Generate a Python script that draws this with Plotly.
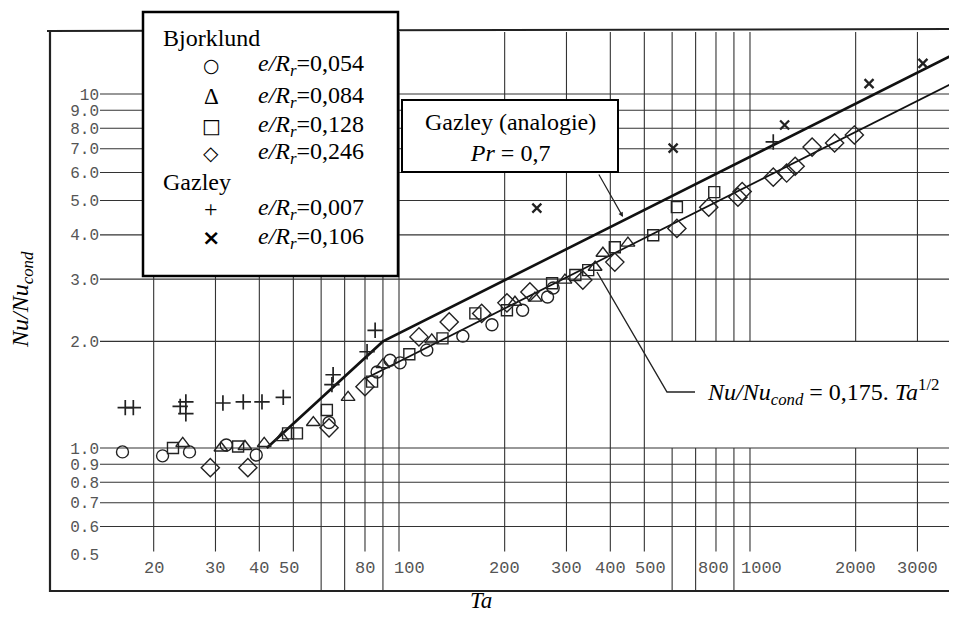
import numpy as np
import plotly.graph_objects as go

# Data (Ta, Nu/Nu_cond)
ta_054 = [16.3, 21.2, 25.3, 32.2, 39.2, 63.2, 86.6, 94.3, 100.7, 120, 152, 184, 225, 265, 275]
nu_054 = [0.975, 0.95, 0.975, 1.02, 0.955, 1.18, 1.64, 1.77, 1.74, 1.89, 2.07, 2.23, 2.45, 2.67, 2.83]

ta_084 = [24.2, 31.1, 36.4, 41.3, 46.4, 57.0, 71.6, 90, 124, 214, 244, 297, 362, 381, 449]
nu_084 = [1.03, 1.0, 1.01, 1.03, 1.07, 1.18, 1.39, 1.72, 2.02, 2.58, 2.65, 2.98, 3.24, 3.55, 3.79]

ta_128 = [22.7, 34.8, 48.3, 51.2, 62.3, 83.8, 107, 133, 165, 203, 273, 318, 346, 412, 530, 619, 791]
nu_128 = [1.0, 1.01, 1.10, 1.10, 1.28, 1.54, 1.84, 2.04, 2.40, 2.45, 2.92, 3.08, 3.18, 3.69, 3.99, 4.79, 5.28]

ta_246 = [29.0, 37.1, 63.2, 80, 114, 139, 172, 203, 236, 334, 412, 619, 763, 924, 950,
          1165, 1272, 1345, 1503, 1742, 1983]
nu_246 = [0.88, 0.88, 1.14, 1.49, 2.06, 2.27, 2.40, 2.57, 2.76, 2.98, 3.35, 4.17, 4.79, 5.11, 5.30,
          5.82, 5.98, 6.25, 7.08, 7.27, 7.66]

ta_007 = [16.6, 17.5, 23.8, 24.7, 24.7, 31.5, 36.0, 40.7, 46.8, 64.9, 64.4, 81.1, 85.5, 1165]
nu_007 = [1.30, 1.30, 1.31, 1.35, 1.25, 1.34, 1.35, 1.35, 1.39, 1.61, 1.51, 1.87, 2.15, 7.32]

ta_106 = [247, 604, 1255, 2184, 3110]
nu_106 = [4.76, 7.03, 8.17, 10.7, 12.2]

# Gazley analogy curve and Nu/Nu_cond = 0.175 Ta^1/2
upper_ta = [42, 90, 3900]
upper_nu = [1.0, 2.0, 13.1]
lower_ta = [80, 3900]
lower_nu = [1.57, 10.9]

# Grid / ticks
x_grid = [20, 30, 40, 50, 60, 70, 80, 90, 100, 200, 300, 400, 500, 600, 700, 800, 900, 1000, 2000, 3000]
x_ticks = [20, 30, 40, 50, 80, 100, 200, 300, 400, 500, 800, 1000, 2000, 3000]
y_grid = [0.6, 0.7, 0.8, 0.9, 1, 2, 3, 4, 5, 6, 7, 8, 9, 10]
y_ticks = [0.5, 0.6, 0.7, 0.8, 0.9, 1, 2, 3, 4, 5, 6, 7, 8, 9, 10]
y_ticktext = ['0.5', '0.6', '0.7', '0.8', '0.9', '1.0', '2.0', '3.0', '4.0', '5.0',
              '6.0', '7.0', '8.0', '9.0', '10']
# small sideways nudges of some x labels, as on the scan (px)
x_label_shift = {50: -4, 100: 10, 500: 6, 800: -2, 1000: 12}

# page has an 8px body margin, so the figure is a bit smaller than the window
OFF = 8
W, H = 957 - 2 * OFF, 621 - 2 * OFF
# plot area in page pixels
L, R, T, B = 100, 949, 32, 591
xr = [1.1481, 3.5670]
yr = [-0.404, 1.1751]
x_lo, x_hi = 10 ** xr[0], 10 ** xr[1]
y_lo, y_hi = 10 ** yr[0], 10 ** yr[1]


def px(x):  # page pixel -> paper
    return (x - L) / (R - L)


def py(y):
    return (B - y) / (B - T)


INK = '#222'
SERIF = 'Liberation Serif'
MONO = 'Liberation Mono'

fig = go.Figure()

# horizontal grid lines
gx, gy = [], []
for v in y_grid:
    gx += [x_lo, x_hi, None]
    gy += [v, v, None]
# vertical grid lines (labelled ones stop above the label, gap behind the formula)
for v in x_grid:
    bottom = 0.51 if v in x_ticks else y_lo
    if v >= 600:
        gx += [v, v, None, v, v, None]
        gy += [2.0, y_hi, None, bottom, 1.0, None]
    else:
        gx += [v, v, None]
        gy += [bottom, y_hi, None]
fig.add_trace(go.Scatter(x=gx, y=gy, mode='lines', line=dict(color='#333', width=1.1),
                         hoverinfo='skip', showlegend=False))

# fitted lines
fig.add_trace(go.Scatter(x=upper_ta, y=upper_nu, mode='lines', line=dict(color='#111', width=2.6),
                         name='Gazley (analogie)', showlegend=False))
fig.add_trace(go.Scatter(x=lower_ta, y=lower_nu, mode='lines', line=dict(color='#111', width=1.7),
                         name='0,175 Ta^1/2', showlegend=False))

series = [
    (ta_054, nu_054, 'circle-open', 12, 1.4, 'e/Rr=0,054'),
    (ta_084, nu_084, 'triangle-up-open', 12, 1.4, 'e/Rr=0,084'),
    (ta_128, nu_128, 'square-open', 11, 1.4, 'e/Rr=0,128'),
    (ta_246, nu_246, 'diamond-open', 14, 1.4, 'e/Rr=0,246'),
    (ta_007, nu_007, 'cross-thin-open', 11, 1.7, 'e/Rr=0,007'),
    (ta_106, nu_106, 'x-thin-open', 9, 2.3, 'e/Rr=0,106'),
]
for xs, ys, sym, size, lw, name in series:
    fig.add_trace(go.Scatter(
        x=xs, y=ys, mode='markers', name=name, showlegend=False,
        marker=dict(symbol=sym, size=size, color=INK, line=dict(color=INK, width=lw))
    ))

shapes = [
    # frame
    dict(type='path', xref='paper', yref='paper',
         path=f'M {px(50)} {py(32)} L {px(50)} {py(591)} L {px(960)} {py(591)}',
         line=dict(color=INK, width=2.2)),
    dict(type='line', xref='paper', yref='paper', x0=px(47), y0=py(31), x1=px(960), y1=py(29),
         line=dict(color=INK, width=2)),
    # legend box
    dict(type='rect', xref='paper', yref='paper', x0=px(143), x1=px(398), y0=py(276), y1=py(12),
         fillcolor='white', line=dict(color='black', width=2.5), layer='above'),
    # Gazley box
    dict(type='rect', xref='paper', yref='paper', x0=px(402), x1=px(618), y0=py(172), y1=py(100),
         fillcolor='white', line=dict(color='black', width=2), layer='above'),
    # pointer to the 0.175 line
    dict(type='path', xref='paper', yref='paper',
         path=f'M {px(597)} {py(272)} L {px(667)} {py(392)} L {px(695)} {py(392)}',
         line=dict(color=INK, width=1.4), layer='above'),
]

ann = []


def text(x, y, s, size=24, anchor='left', family=SERIF, color='black', **kw):
    ann.append(dict(x=px(x), y=py(y), xref='paper', yref='paper', text=s, showarrow=False,
                    xanchor=anchor, yanchor='middle', font=dict(family=family, size=size, color=color),
                    **kw))


text(161, 38, 'Bjorklund')
text(161, 182, 'Gazley')
rows = [65, 97, 126, 153, 209, 238]
syms = [('○', 'DejaVu Sans', 19), ('Δ', SERIF, 23), ('□', 'DejaVu Sans', 20),
        ('<b>◇</b>', 'DejaVu Sans', 20), ('+', SERIF, 24), ('<b>×</b>', 'DejaVu Sans', 22)]
labels = ['0,054', '0,084', '0,128', '0,246', '0,007', '0,106']
for yy, (s, fam, sz), lab in zip(rows, syms, labels):
    text(211, yy, s, size=sz, anchor='center', family=fam)
    text(256, yy, '<i>e/R<sub>r</sub></i>=' + lab)

text(510, 137, 'Gazley (analogie)<br><i>Pr</i> = 0,7', anchor='center')
text(705, 392, '<i>Nu/Nu<sub>cond</sub></i> = 0,175. <i>Ta</i><sup>1/2</sup>')
text(481, 601, '<i>Ta</i>', size=23, anchor='center')
text(22, 300, '<i>Nu/Nu<sub>cond</sub></i>', size=24, anchor='center', textangle=-90)

# x tick labels sit inside the frame, under the short grid lines
for v in x_ticks:
    ann.append(dict(x=np.log10(v), y=py(568), xref='x', yref='paper', text=str(v), showarrow=False,
                    xanchor='center', yanchor='middle', xshift=x_label_shift.get(v, 0),
                    font=dict(family=MONO, size=17, color='#555')))

# pointer from Gazley box to the upper line
ann.append(dict(x=px(623), y=py(217), xref='paper', yref='paper', text='', showarrow=True,
                ax=-25, ay=-44, arrowhead=2, arrowsize=0.8, arrowwidth=1.2, arrowcolor=INK))

fig.update_layout(
    width=W, height=H,
    margin=dict(l=L - OFF, r=W - (R - OFF), t=T - OFF, b=H - (B - OFF)),
    paper_bgcolor='white', plot_bgcolor='white',
    shapes=shapes, annotations=ann,
    showlegend=False,
)
fig.update_xaxes(
    type='log', range=xr, showgrid=False, zeroline=False, showline=False,
    showticklabels=False, ticks='',
)
fig.update_yaxes(
    type='log', range=yr, showgrid=False, zeroline=False, showline=False,
    tickvals=y_ticks, ticktext=y_ticktext, ticks='',
    tickfont=dict(family=MONO, size=16, color='#555'),
)

fig.write_html('out.html')
